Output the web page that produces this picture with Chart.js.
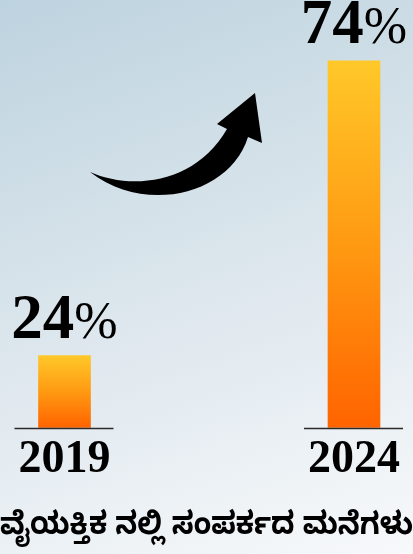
<!DOCTYPE html>
<html>
<head>
<meta charset="utf-8">
<script src="https://cdn.jsdelivr.net/npm/chart.js@4.4.1/dist/chart.umd.min.js"></script>
<style>
  html, body { margin: 0; padding: 0; }
  body { width: 413px; height: 554px; overflow: hidden;
    background: linear-gradient(160deg, #bdd3df 0%, #dfe8ee 55%, #f7f9fb 100%); }
  #wrap { position: relative; width: 413px; height: 554px; }
</style>
</head>
<body>
<div id="wrap"><canvas id="c"></canvas></div>
<script>
// ---- data ----
const categories = ['2019', '2024'];
const values = [24, 74];
const valueSuffix = '%';
const chartTitle = 'ವೈಯಕ್ತಿಕ ನಲ್ಲಿ ಸಂಪರ್ಕದ ಮನೆಗಳು';
const Y_MIN = 11.8;
const Y_MAX = 84.3;

const SERIF = '"Liberation Serif", "Times New Roman", "DejaVu Serif", serif';

function barGradient(ctx) {
  const chart = ctx.chart;
  if (!chart.chartArea || ctx.type !== 'data') return '#ff9a10';
  const y = chart.scales.y;
  const top = y.getPixelForValue(ctx.raw);
  const bottom = y.getPixelForValue(Y_MIN);
  const g = chart.ctx.createLinearGradient(0, top, 0, bottom);
  g.addColorStop(0, '#ffc829');
  g.addColorStop(0.5, '#ff9a12');
  g.addColorStop(1, '#ff6400');
  return g;
}

const decor = {
  id: 'decor',
  afterDatasetsDraw(chart) {
    const ctx = chart.ctx;
    const meta = chart.getDatasetMeta(0);
    const area = chart.chartArea;
    ctx.save();
    meta.data.forEach((bar, i) => {
      // baseline line under each bar
      ctx.strokeStyle = '#2a2a2a';
      ctx.lineWidth = 1.5;
      ctx.beginPath();
      ctx.moveTo(bar.x - 50, bar.base + 1);
      ctx.lineTo(bar.x + 49, bar.base + 1);
      ctx.stroke();
      // value label
      const num = String(values[i]);
      ctx.fillStyle = '#000';
      ctx.textBaseline = 'alphabetic';
      ctx.font = 'bold 63px ' + SERIF;
      const wNum = ctx.measureText(num).width;
      ctx.font = '52px ' + SERIF;
      const wPct = ctx.measureText(valueSuffix).width;
      const x0 = bar.x - (wNum + wPct) / 2;
      const yb = bar.y - 18;
      ctx.font = 'bold 63px ' + SERIF;
      ctx.textAlign = 'left';
      ctx.fillText(num, x0, yb);
      ctx.font = '52px ' + SERIF;
      ctx.fillText(valueSuffix, x0 + wNum, yb);
    });
    // curved arrow (decoration), placed relative to chart area
    const ox = area.left, oy = area.top;
    const P = (x, y) => [ox + x, oy + y];
    ctx.fillStyle = '#000';
    ctx.beginPath();
    ctx.moveTo(...P(25.5, 172));
    ctx.bezierCurveTo(...P(65.5, 190), ...P(130.5, 185), ...P(162.5, 129));
    ctx.lineTo(...P(152.5, 124));
    ctx.lineTo(...P(190.5, 93));
    ctx.lineTo(...P(197.5, 143));
    ctx.lineTo(...P(183.5, 137));
    ctx.bezierCurveTo(...P(165.5, 195), ...P(80.5, 215), ...P(25.5, 172));
    ctx.closePath();
    ctx.fill();
    ctx.restore();
  }
};

new Chart(document.getElementById('c'), {
  type: 'bar',
  data: {
    labels: categories,
    datasets: [{
      data: values,
      base: Y_MIN,
      backgroundColor: barGradient,
      barThickness: 52,
      borderWidth: 0,
      clip: false
    }]
  },
  options: {
    responsive: true,
    maintainAspectRatio: false,
    animation: false,
    layout: { padding: { left: 0, right: 0, top: 0, bottom: 3 } },
    plugins: {
      legend: { display: false },
      tooltip: { enabled: false },
      title: {
        display: true,
        position: 'bottom',
        text: chartTitle,
        color: '#000',
        padding: { top: 19.7, bottom: 1.4 },
        font: { family: '"Noto Sans Kannada", "Noto Sans", sans-serif', size: 31, weight: 'bold' }
      }
    },
    scales: {
      x: {
        type: 'category',
        offset: false,
        grid: { display: false, drawTicks: false },
        border: { display: false },
        ticks: { color: '#000', padding: 5, font: { family: SERIF, size: 46, weight: 'bold' } }
      },
      y: {
        position: 'left',
        min: Y_MIN,
        max: Y_MAX,
        grid: { display: false, drawTicks: false },
        border: { display: false },
        ticks: { display: false },
        afterFit(scale) { scale.width = 64.5; }
      },
      yRight: {
        position: 'right',
        grid: { display: false, drawTicks: false },
        border: { display: false },
        ticks: { display: false },
        afterFit(scale) { scale.width = 59; }
      }
    }
  },
  plugins: [decor]
});
</script>
</body>
</html>
